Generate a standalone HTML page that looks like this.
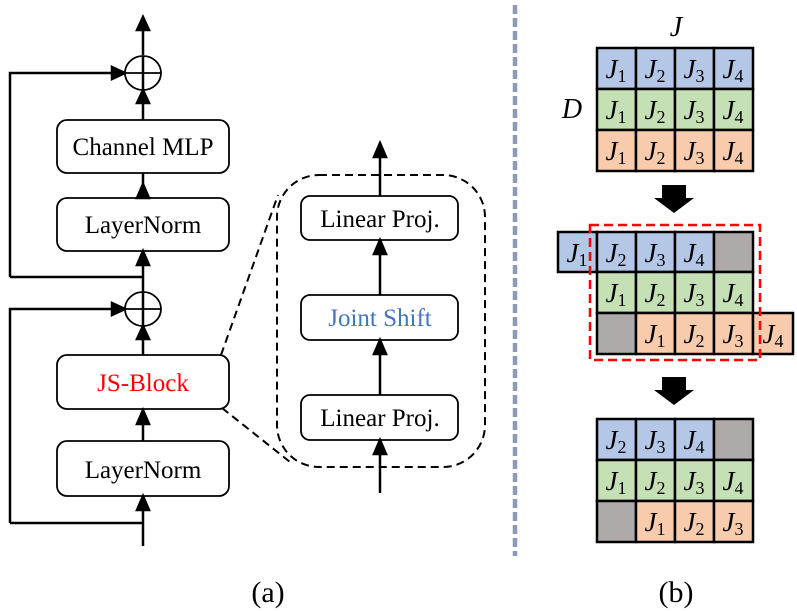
<!DOCTYPE html>
<html><head><meta charset="utf-8"><style>
html,body{margin:0;padding:0;background:#fff;}
svg{display:block;}
.t{font-family:"Liberation Serif",serif;font-size:25px;fill:#000;}
.c{font-family:"Liberation Serif",serif;font-size:27px;font-style:italic;}
.c tspan.s{font-style:normal;font-size:18px;}
</style></head><body>
<svg width="797" height="611" viewBox="0 0 797 611" xmlns="http://www.w3.org/2000/svg">
<g stroke="#000" stroke-width="2.5" fill="none">
<line x1="143" y1="55" x2="143" y2="17"/>
<path d="M137,30 L143,17 L149,30 z" fill="#000"/>
<ellipse cx="143" cy="73" rx="18" ry="17" stroke-width="1.8"/>
<line x1="125" y1="73" x2="161" y2="73" stroke-width="1.8"/>
<line x1="143" y1="56" x2="143" y2="120"/>
<path d="M137,103 L143,90 L149,103 z" fill="#000"/>
<path d="M10,277 L10,73 L112,73"/>
<path d="M112,67 L125,73 L112,79 z" fill="#000"/>
<line x1="143" y1="173" x2="143" y2="198"/>
<path d="M137,198 L143,184 L149,198 z" fill="#000"/>
<line x1="143" y1="251" x2="143" y2="292"/>
<path d="M137,265 L143,251 L149,265 z" fill="#000"/>
<line x1="10" y1="277" x2="143" y2="277"/>
<ellipse cx="143" cy="309" rx="18" ry="17" stroke-width="1.8"/>
<line x1="125" y1="309" x2="161" y2="309" stroke-width="1.8"/>
<line x1="143" y1="292" x2="143" y2="355"/>
<path d="M137,339 L143,326 L149,339 z" fill="#000"/>
<path d="M10,523 L10,309 L112,309"/>
<path d="M112,303 L125,309 L112,315 z" fill="#000"/>
<line x1="143" y1="409" x2="143" y2="441"/>
<path d="M137,424 L143,410 L149,424 z" fill="#000"/>
<line x1="143" y1="496" x2="143" y2="546"/>
<path d="M137,510 L143,496 L149,510 z" fill="#000"/>
<line x1="10" y1="523" x2="143" y2="523"/>
<rect x="57" y="120" width="172" height="53" rx="10" stroke-width="1.8"/>
<rect x="57" y="198" width="172" height="53" rx="10" stroke-width="1.8"/>
<rect x="57" y="355" width="172" height="54" rx="10" stroke-width="1.8"/>
<rect x="57" y="441" width="172" height="55" rx="10" stroke-width="1.8"/>
<rect x="277" y="175" width="208" height="292" rx="42" stroke-dasharray="8,5" stroke-width="2"/>
<line x1="221" y1="355" x2="278" y2="195" stroke-dasharray="8,5" stroke-width="2"/>
<line x1="222" y1="408" x2="290" y2="462" stroke-dasharray="8,5" stroke-width="2"/>
<line x1="380" y1="196" x2="380" y2="145"/>
<path d="M374,157 L380,143 L386,157 z" fill="#000"/>
<line x1="380" y1="240" x2="380" y2="295"/>
<path d="M374,254 L380,240 L386,254 z" fill="#000"/>
<line x1="380" y1="340" x2="380" y2="395"/>
<path d="M374,354 L380,340 L386,354 z" fill="#000"/>
<line x1="380" y1="440" x2="380" y2="493"/>
<path d="M374,454 L380,440 L386,454 z" fill="#000"/>
<rect x="301" y="196" width="157" height="44" rx="9" stroke-width="1.8"/>
<rect x="301" y="295" width="157" height="45" rx="9" stroke-width="1.8"/>
<rect x="301" y="395" width="157" height="45" rx="9" stroke-width="1.8"/>
</g>
<text class="t" x="143" y="155" text-anchor="middle">Channel MLP</text>
<text class="t" x="143" y="233" text-anchor="middle">LayerNorm</text>
<text class="t" x="143" y="391" text-anchor="middle" style="fill:#ff0000">JS-Block</text>
<text class="t" x="143" y="478" text-anchor="middle">LayerNorm</text>
<text class="t" x="380" y="227" text-anchor="middle">Linear Proj.</text>
<text class="t" x="380" y="326" text-anchor="middle" style="fill:#4472c4">Joint Shift</text>
<text class="t" x="380" y="426" text-anchor="middle">Linear Proj.</text>
<line x1="515" y1="5" x2="515" y2="556" stroke="#8a9ab8" stroke-width="4.5" stroke-dasharray="9,4"/>
<text class="t" x="268" y="602" text-anchor="middle" style="font-size:30px">(a)</text>
<text class="t" x="676" y="602" text-anchor="middle" style="font-size:30px">(b)</text>
<text class="c" x="676" y="36" text-anchor="middle" style="font-size:28px">J</text>
<text class="c" x="572" y="118" text-anchor="middle" style="font-size:28px">D</text>
<path d="M662,185 L686,185 L686,198 L694,198 L674,213 L654,198 L662,198 z" fill="#000"/>
<path d="M662,377 L686,377 L686,390 L694,390 L674,405 L654,390 L662,390 z" fill="#000"/>
<g stroke="#000" stroke-width="2.5">
<rect x="597" y="48" width="39" height="41" fill="#b4c7e7"/><rect x="636" y="48" width="39" height="41" fill="#b4c7e7"/><rect x="675" y="48" width="39" height="41" fill="#b4c7e7"/><rect x="714" y="48" width="39" height="41" fill="#b4c7e7"/>
<rect x="597" y="89" width="39" height="41" fill="#c5e0b4"/><rect x="636" y="89" width="39" height="41" fill="#c5e0b4"/><rect x="675" y="89" width="39" height="41" fill="#c5e0b4"/><rect x="714" y="89" width="39" height="41" fill="#c5e0b4"/>
<rect x="597" y="130" width="39" height="41" fill="#f8cbad"/><rect x="636" y="130" width="39" height="41" fill="#f8cbad"/><rect x="675" y="130" width="39" height="41" fill="#f8cbad"/><rect x="714" y="130" width="39" height="41" fill="#f8cbad"/>
<rect x="558" y="232" width="39" height="40" fill="#b4c7e7"/>
<rect x="597" y="232" width="39" height="40" fill="#b4c7e7"/><rect x="636" y="232" width="39" height="40" fill="#b4c7e7"/><rect x="675" y="232" width="39" height="40" fill="#b4c7e7"/><rect x="714" y="232" width="39" height="40" fill="#aeaaaa"/>
<rect x="597" y="272" width="39" height="41" fill="#c5e0b4"/><rect x="636" y="272" width="39" height="41" fill="#c5e0b4"/><rect x="675" y="272" width="39" height="41" fill="#c5e0b4"/><rect x="714" y="272" width="39" height="41" fill="#c5e0b4"/>
<rect x="597" y="313" width="39" height="41" fill="#aeaaaa"/><rect x="636" y="313" width="39" height="41" fill="#f8cbad"/><rect x="675" y="313" width="39" height="41" fill="#f8cbad"/><rect x="714" y="313" width="39" height="41" fill="#f8cbad"/>
<rect x="753" y="313" width="40" height="41" fill="#f8cbad"/>
<rect x="597" y="419" width="39" height="41" fill="#b4c7e7"/><rect x="636" y="419" width="39" height="41" fill="#b4c7e7"/><rect x="675" y="419" width="39" height="41" fill="#b4c7e7"/><rect x="714" y="419" width="39" height="41" fill="#aeaaaa"/>
<rect x="597" y="460" width="39" height="41" fill="#c5e0b4"/><rect x="636" y="460" width="39" height="41" fill="#c5e0b4"/><rect x="675" y="460" width="39" height="41" fill="#c5e0b4"/><rect x="714" y="460" width="39" height="41" fill="#c5e0b4"/>
<rect x="597" y="501" width="39" height="41" fill="#aeaaaa"/><rect x="636" y="501" width="39" height="41" fill="#f8cbad"/><rect x="675" y="501" width="39" height="41" fill="#f8cbad"/><rect x="714" y="501" width="39" height="41" fill="#f8cbad"/>
</g>
<rect x="590" y="225" width="170" height="135" fill="none" stroke="#ff0000" stroke-width="2.5" stroke-dasharray="9,5"/>
<g class="c" text-anchor="middle">
<text x="616" y="78">J<tspan class="s" dy="4">1</tspan></text><text x="655" y="78">J<tspan class="s" dy="4">2</tspan></text><text x="694" y="78">J<tspan class="s" dy="4">3</tspan></text><text x="733" y="78">J<tspan class="s" dy="4">4</tspan></text>
<text x="616" y="119">J<tspan class="s" dy="4">1</tspan></text><text x="655" y="119">J<tspan class="s" dy="4">2</tspan></text><text x="694" y="119">J<tspan class="s" dy="4">3</tspan></text><text x="733" y="119">J<tspan class="s" dy="4">4</tspan></text>
<text x="616" y="160">J<tspan class="s" dy="4">1</tspan></text><text x="655" y="160">J<tspan class="s" dy="4">2</tspan></text><text x="694" y="160">J<tspan class="s" dy="4">3</tspan></text><text x="733" y="160">J<tspan class="s" dy="4">4</tspan></text>
<text x="577" y="262">J<tspan class="s" dy="4">1</tspan></text>
<text x="616" y="262">J<tspan class="s" dy="4">2</tspan></text><text x="655" y="262">J<tspan class="s" dy="4">3</tspan></text><text x="694" y="262">J<tspan class="s" dy="4">4</tspan></text>
<text x="616" y="302">J<tspan class="s" dy="4">1</tspan></text><text x="655" y="302">J<tspan class="s" dy="4">2</tspan></text><text x="694" y="302">J<tspan class="s" dy="4">3</tspan></text><text x="733" y="302">J<tspan class="s" dy="4">4</tspan></text>
<text x="655" y="343">J<tspan class="s" dy="4">1</tspan></text><text x="694" y="343">J<tspan class="s" dy="4">2</tspan></text><text x="733" y="343">J<tspan class="s" dy="4">3</tspan></text><text x="773" y="343">J<tspan class="s" dy="4">4</tspan></text>
<text x="616" y="449">J<tspan class="s" dy="4">2</tspan></text><text x="655" y="449">J<tspan class="s" dy="4">3</tspan></text><text x="694" y="449">J<tspan class="s" dy="4">4</tspan></text>
<text x="616" y="490">J<tspan class="s" dy="4">1</tspan></text><text x="655" y="490">J<tspan class="s" dy="4">2</tspan></text><text x="694" y="490">J<tspan class="s" dy="4">3</tspan></text><text x="733" y="490">J<tspan class="s" dy="4">4</tspan></text>
<text x="655" y="531">J<tspan class="s" dy="4">1</tspan></text><text x="694" y="531">J<tspan class="s" dy="4">2</tspan></text><text x="733" y="531">J<tspan class="s" dy="4">3</tspan></text>
</g>
</svg>
</body></html>
